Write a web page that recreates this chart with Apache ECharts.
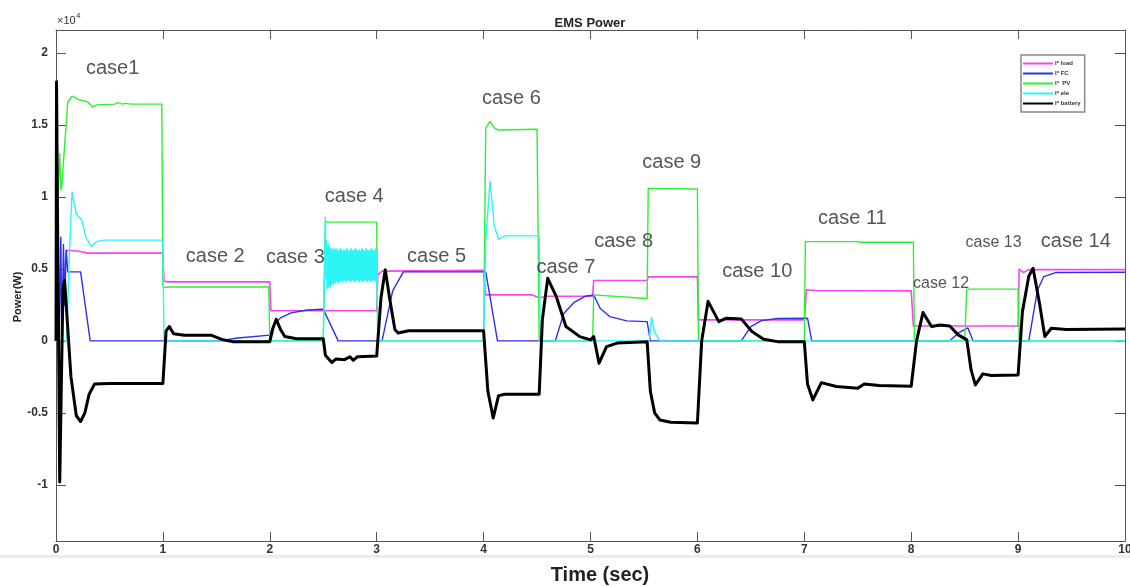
<!DOCTYPE html>
<html>
<head>
<meta charset="utf-8">
<script src="https://cdn.jsdelivr.net/npm/echarts@6.0.0/dist/echarts.min.js"></script>
<style>
html,body{margin:0;padding:0;background:#fff;}
#chart{width:1130px;height:586px;}
</style>
</head>
<body>
<div id="chart"></div>
<script>
// ---------- data (time in s, power in W) ----------
var seriesNames = ['I* load', 'I* FC', 'I*  PV', 'I* ele', 'I* battery'];
var yTickValues = [-10000, -5000, 0, 5000, 10000, 15000, 20000];
var xTickValues = [0, 1, 2, 3, 4, 5, 6, 7, 8, 9, 10];

var loadData = [[0,4000],[0.07,4000],[0.1,6300],[0.2,6250],[0.3,6100],[1.0,6100],[1.01,4150],[1.05,4100],[2.0,4100],[2.01,2100],[3.0,2100],[3.01,4600],[3.05,4850],[4.0,4900],[4.02,3200],[4.45,3200],[4.52,3000],[4.6,3100],[5.02,3100],[5.03,4200],[5.53,4200],[5.54,4450],[6.0,4450],[6.01,1460],[7.0,1460],[7.02,3550],[7.1,3500],[8.0,3480],[8.02,1040],[9.0,1040],[9.01,4980],[9.05,4750],[9.1,4950],[10,4950]];

var fcData = [[0,0],[0.03,0],[0.045,7200],[0.055,200],[0.07,6700],[0.08,2500],[0.095,6300],[0.11,4800],[0.23,4800],[0.32,0],[1.53,0],[1.7,200],[2.0,400],[2.03,1000],[2.1,1600],[2.2,1950],[2.35,2150],[2.5,2200],[2.64,0],[3.05,0],[3.15,3500],[3.25,4800],[4.02,4800],[4.13,0],[4.67,0],[4.75,1900],[4.85,2700],[4.95,3100],[5.03,3200],[5.09,2270],[5.18,1690],[5.34,1390],[5.53,1340],[5.56,0],[6.41,0],[6.5,1000],[6.6,1410],[6.75,1560],[7.03,1580],[7.07,0],[8.36,0],[8.45,600],[8.53,900],[8.58,0],[9.1,0],[9.18,3500],[9.24,4470],[9.35,4750],[10,4770]];

var pvData = [[0,0],[0.01,9500],[0.02,10500],[0.035,13000],[0.045,10500],[0.055,10800],[0.08,13500],[0.11,16600],[0.15,17000],[0.22,16750],[0.3,16600],[0.34,16250],[0.38,16400],[0.55,16450],[0.58,16550],[0.62,16450],[0.65,16500],[0.7,16450],[0.99,16450],[1.0,3900],[1.01,3700],[1.05,3750],[1.99,3750],[2.0,0],[2.5,0],[2.52,8300],[2.54,8250],[3.0,8250],[3.01,0],[4.0,0],[4.02,14800],[4.06,15250],[4.1,14800],[4.14,14650],[4.5,14700],[4.52,0],[5.02,0],[5.03,3200],[5.53,2950],[5.54,10600],[6.0,10550],[6.01,0],[7.0,0],[7.01,6900],[7.5,6900],[7.52,6850],[8.02,6850],[8.03,0],[8.5,0],[8.52,3600],[9.0,3600],[9.01,0],[10,0]];

var eleData = [[0,0],[0.1,0],[0.12,5000],[0.15,10350],[0.19,8800],[0.24,8400],[0.28,7200],[0.33,6550],[0.38,6900],[0.45,7000],[1.0,7000],[1.01,0],[2.5,0],
[2.520,8600],[2.525,4300],[2.530,7000],[2.535,3600],[2.540,6600],[2.545,3700],[2.550,6700],[2.555,3800],[2.560,6500],[2.565,3700],[2.570,6400],[2.575,3900],[2.580,6300],[2.585,4000],[2.590,6400],[2.595,3900],[2.600,6300],[2.605,4100],[2.610,6400],[2.615,4000],[2.620,6300],[2.625,4200],[2.630,6400],[2.635,4100],[2.640,6200],[2.645,4000],[2.650,6300],[2.655,4200],[2.660,6400],[2.665,4100],[2.670,6300],[2.675,4200],[2.680,6200],[2.685,4100],[2.690,6300],[2.695,4300],[2.700,6300],[2.705,4200],[2.710,6200],[2.715,4100],[2.720,6400],[2.725,4200],[2.730,6300],[2.735,4300],[2.740,6200],[2.745,4200],[2.750,6300],[2.755,4100],[2.760,6400],[2.765,4200],[2.770,6300],[2.775,4300],[2.780,6200],[2.785,4200],[2.790,6300],[2.795,4100],[2.800,6400],[2.805,4200],[2.810,6300],[2.815,4300],[2.820,6200],[2.825,4200],[2.830,6300],[2.835,4100],[2.840,6300],[2.845,4300],[2.850,6200],[2.855,4200],[2.860,6400],[2.865,4200],[2.870,6300],[2.875,4100],[2.880,6300],[2.885,4300],[2.890,6200],[2.895,4200],[2.900,6400],[2.905,4200],[2.910,6300],[2.915,4100],[2.920,6300],[2.925,4300],[2.930,6200],[2.935,4200],[2.940,6300],[2.945,4200],[2.950,6400],[2.955,4100],[2.960,6300],[2.965,4300],[2.970,6200],[2.975,4200],[2.980,6300],[2.985,4200],[2.990,6400],[2.995,4100],[3.000,6200],
[3.01,0],[4.0,0],[4.02,7000],[4.06,11100],[4.1,8000],[4.14,7050],[4.2,7300],[4.52,7300],[4.53,0],[5.55,0],[5.57,1650],[5.6,600],[5.65,0],[10,0]];

var batteryData = [[0,0],[0.005,18000],[0.015,8000],[0.035,-9800],[0.05,-3000],[0.065,3500],[0.08,4200],[0.1,2000],[0.14,-2500],[0.19,-5200],[0.23,-5600],[0.27,-5000],[0.31,-3700],[0.36,-3000],[0.5,-2950],[1.0,-2950],[1.03,700],[1.06,1000],[1.1,500],[1.2,400],[1.45,400],[1.55,100],[1.65,-50],[2.0,-50],[2.03,900],[2.06,1500],[2.1,800],[2.14,300],[2.25,150],[2.5,150],[2.52,-1000],[2.58,-1500],[2.62,-1250],[2.7,-1300],[2.75,-1100],[2.78,-1350],[2.82,-1100],[3.0,-1050],[3.04,3000],[3.08,4950],[3.12,3000],[3.17,800],[3.2,550],[3.3,700],[4.0,700],[4.04,-3500],[4.09,-5350],[4.14,-3800],[4.2,-3700],[4.52,-3700],[4.55,1500],[4.6,4350],[4.68,3080],[4.77,1000],[4.9,300],[5.0,70],[5.03,300],[5.08,-1550],[5.15,-400],[5.25,-150],[5.53,-50],[5.56,-3500],[5.6,-5000],[5.65,-5500],[5.75,-5650],[6.0,-5700],[6.04,0],[6.1,2750],[6.2,1340],[6.27,1580],[6.41,1530],[6.51,650],[6.62,120],[6.75,-50],[7.0,-50],[7.03,-3000],[7.08,-4100],[7.16,-2900],[7.3,-3170],[7.5,-3290],[7.56,-3000],[7.7,-3100],[8.0,-3150],[8.05,0],[8.11,1970],[8.19,1000],[8.27,1110],[8.36,1040],[8.44,420],[8.52,70],[8.56,-2000],[8.6,-3060],[8.67,-2290],[8.75,-2400],[9.0,-2360],[9.04,2000],[9.1,4500],[9.14,5050],[9.2,2620],[9.25,300],[9.31,880],[9.45,800],[10,820]];

// case annotations, anchored in data coordinates (t, W)
var caseNames = ['case1','case 2','case 3','case 4','case 5','case 6','case 7','case 8','case 9','case 10','case 11','case 12','case 13','case 14'];
var caseT = [0.53, 1.49, 2.24, 2.79, 3.56, 4.26, 4.77, 5.31, 5.76, 6.56, 7.45, 8.28, 8.77, 9.54];
var caseP = [18960, 5900, 5830, 10000, 5900, 16870, 5070, 6940, 12430, 4790, 8540, 3960, 6800, 6940];

// ---------- chart ----------
var colors = ['#f545f5', '#2e2ef0', '#2ef02e', '#2ef5f5', '#000000'];
var widths = [1.6, 1.4, 1.4, 1.4, 3];
var datasets = [loadData, fcData, pvData, eleData, batteryData];
var smallCases = {'case 12': 16, 'case 13': 16};

var lineSeries = seriesNames.map(function (n, i) {
  return {
    name: n, type: 'line', data: datasets[i], symbol: 'none', showSymbol: false,
    lineStyle: {color: colors[i], width: widths[i], join: 'round'},
    itemStyle: {color: colors[i]},
    silent: true, z: 2 + i
  };
});

var caseItems = caseNames.map(function (n, i) {
  return {
    name: n, value: [caseT[i], caseP[i]],
    label: {fontSize: smallCases[n] || 20}
  };
});

var axisFont = {fontFamily: 'Liberation Sans, Arial, sans-serif', fontWeight: 'bold', fontSize: 12, color: '#333'};
var axisLineStyle = {color: '#555', width: 1};

var option = {
  animation: false,
  backgroundColor: '#ffffff',
  grid: {left: 56, right: 5, top: 30, bottom: 45, containLabel: false, outerBoundsMode: 'none'},
  legend: {
    data: seriesNames.map(function (n) { return {name: n, icon: 'rect'}; }),
    orient: 'vertical',
    left: 1021, top: 55,
    padding: [5, 4, 5, 2],
    itemGap: 3, itemWidth: 30, itemHeight: 2,
    borderColor: '#888', borderWidth: 1.5,
    backgroundColor: '#fff',
    textStyle: {fontSize: 6, lineHeight: 7, fontWeight: 'bold', color: '#333', fontFamily: 'Liberation Sans, Arial, sans-serif', padding: [0, 0, 0, -3]}
  },
  xAxis: [{
    type: 'value', min: 0, max: 10, interval: 1,
    axisLine: {show: true, onZero: false, lineStyle: axisLineStyle},
    axisTick: {show: true, inside: true, length: 9, lineStyle: axisLineStyle},
    axisLabel: Object.assign({margin: 3, formatter: function (v) { return String(v); }}, axisFont),
    splitLine: {show: false}
  }, {
    type: 'value', min: 0, max: 10, interval: 1, position: 'top',
    axisLine: {show: true, onZero: false, lineStyle: axisLineStyle},
    axisTick: {show: true, inside: true, length: 9, lineStyle: axisLineStyle},
    axisLabel: {show: false}, splitLine: {show: false}
  }],
  yAxis: [{
    type: 'value', min: -13900, max: 21600,
    axisLine: {show: true, onZero: false, lineStyle: axisLineStyle},
    axisTick: {show: true, inside: true, length: 10, customValues: yTickValues, lineStyle: axisLineStyle},
    axisLabel: Object.assign({margin: 8, customValues: yTickValues, formatter: function (v) { return String(v / 10000); }}, axisFont),
    splitLine: {show: false}
  }, {
    type: 'value', min: -13900, max: 21600, position: 'right',
    axisLine: {show: true, onZero: false, lineStyle: axisLineStyle},
    axisTick: {show: true, inside: true, length: 10, customValues: yTickValues, lineStyle: axisLineStyle},
    axisLabel: {show: false}, splitLine: {show: false}
  }],
  series: lineSeries.concat([{
    name: 'cases', type: 'scatter', data: caseItems,
    symbol: 'circle', symbolSize: 1,
    itemStyle: {color: 'rgba(0,0,0,0)'},
    silent: true, z: 20,
    label: {
      show: true, position: 'inside',
      formatter: function (p) { return p.name; },
      color: '#2a2a2a', fontFamily: 'Liberation Sans, Arial, sans-serif'
    }
  }]),
  graphic: [
    {type: 'rect', shape: {x: 0, y: 555, width: 1130, height: 3}, style: {fill: '#ececec'}, silent: true},
    {type: 'text', x: 590, y: 23, style: {text: 'EMS Power', font: 'bold 13px "Liberation Sans", Arial, sans-serif', fill: '#222', textAlign: 'center', textVerticalAlign: 'middle'}},
    {type: 'text', x: 57, y: 21, style: {text: '×10', font: '11px "Liberation Sans", Arial, sans-serif', fill: '#333', textAlign: 'left', textVerticalAlign: 'middle'}},
    {type: 'text', x: 76, y: 16, style: {text: '4', font: '8px "Liberation Sans", Arial, sans-serif', fill: '#333', textAlign: 'left', textVerticalAlign: 'middle'}},
    {type: 'text', x: 18, y: 297, rotation: Math.PI / 2, style: {text: 'Power(W)', font: 'bold 11px "Liberation Sans", Arial, sans-serif', fill: '#222', textAlign: 'center', textVerticalAlign: 'middle'}},
    {type: 'text', x: 600, y: 575, style: {text: 'Time (sec)', font: 'bold 20px "Liberation Sans Narrow", "Liberation Sans", Arial, sans-serif', fill: '#222', textAlign: 'center', textVerticalAlign: 'middle'}}
  ]
};

var chart = echarts.init(document.getElementById('chart'), null, {renderer: 'canvas'});
chart.setOption(option);
</script>
</body>
</html>
